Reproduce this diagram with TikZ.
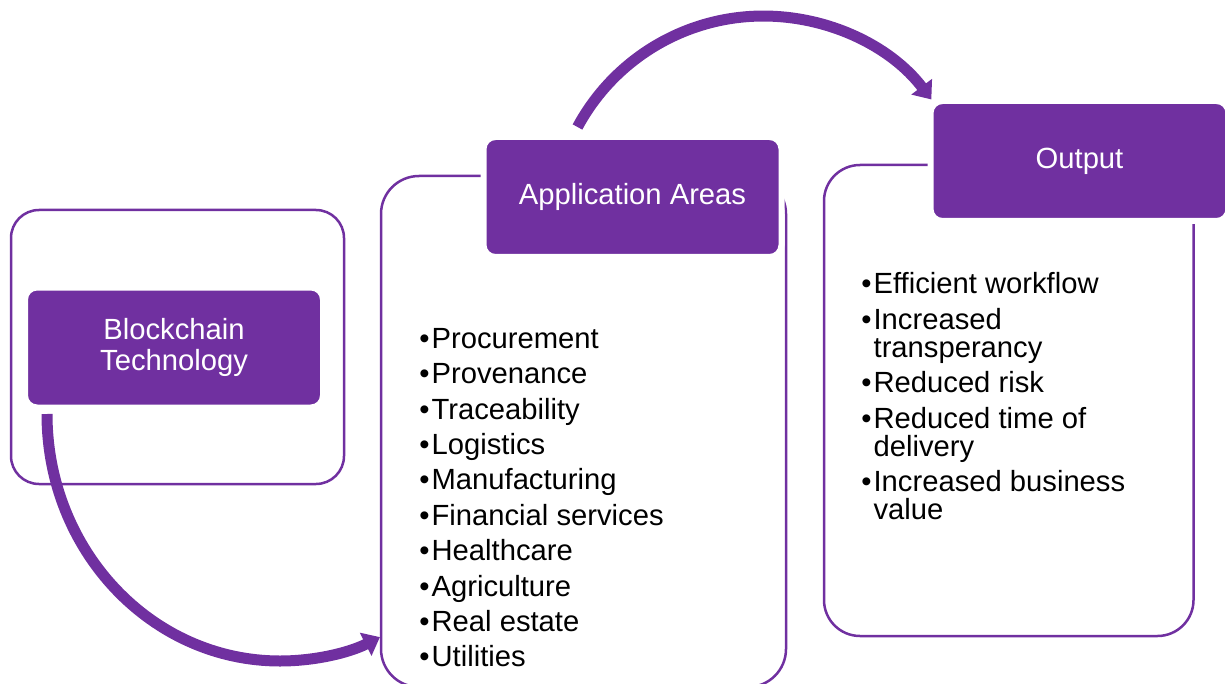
\documentclass[tikz,border=0pt]{standalone}
\usepackage{fontspec}
\setmainfont{Liberation Sans}
\usepackage{tikz}
\usetikzlibrary{arrows.meta}
\definecolor{areapurple}{HTML}{7030A0}
\newcommand{\bul}{•\kern1pt}

\begin{document}
\begin{tikzpicture}[x=0.5pt,y=-0.5pt]
		\tikzstyle{frame}=[draw=areapurple, line width=1.25pt, rounded corners=18pt]
		\tikzstyle{head}=[fill=areapurple, draw=white, line width=3pt, rounded corners=6pt,
			minimum width=149pt, minimum height=60pt, text=white, align=center,
			font=\fontsize{14.6}{15.85}\selectfont]
		\tikzstyle{items}=[anchor=north west, inner sep=0pt, align=left,
			font=\fontsize{14.6}{14}\selectfont]
		\tikzstyle{flow}=[draw=areapurple, line width=5.5pt, -{Triangle[length=8pt,width=12.5pt]}]
		\useasboundingbox (0,0) rectangle (1225,684);
		% outlined boxes
		\node[frame, rounded corners=14pt, minimum width=166.5pt, minimum height=137pt] (techbox) at (177.5,347) {};
		\node[frame, rounded corners=19pt, minimum width=202.5pt, minimum height=255.5pt] (areabox) at (583.5,431.5) {};
		\node[frame, minimum width=184.75pt, minimum height=235.5pt] (outbox) at (1008.75,400.5) {};
		% headers
		\node[head] (techhead) at (174,347.5) {Blockchain\\Technology};
		\node[head] (areahead) at (632.5,197) {Application Areas};
		\node[head] (outhead) at (1079.5,161) {Output};
		% lists
		\node[items] (arealist) at (419,327.8) {\bul Procurement\\[3.7pt]
			\bul Provenance\\[3.7pt]
			\bul Traceability\\[3.7pt]
			\bul Logistics\\[3.7pt]
			\bul Manufacturing\\[3.7pt]
			\bul Financial services\\[3.7pt]
			\bul Healthcare\\[3.7pt]
			\bul Agriculture\\[3.7pt]
			\bul Real estate\\[3.7pt]
			\bul Utilities};
		\node[items] (outlist) at (861,272.3) {\bul Efficient workflow\\[3.7pt]
			\bul Increased\\\hphantom{\bul}transperancy\\[3.7pt]
			\bul Reduced risk\\[3.7pt]
			\bul Reduced time of\\\hphantom{\bul}delivery\\[3.7pt]
			\bul Increased business\\\hphantom{\bul}value};
		% arrows
		\draw[flow] ([shift={(25,3.5)}]techhead.south west) arc[start angle=180, end angle=295.4, x radius=116.5pt, y radius=123.5pt];
		\draw[flow] ([shift={(97,-7)}]areahead.north west) arc[start angle=151.7, end angle=37.2, radius=105.5pt];
\end{tikzpicture}
\end{document}
